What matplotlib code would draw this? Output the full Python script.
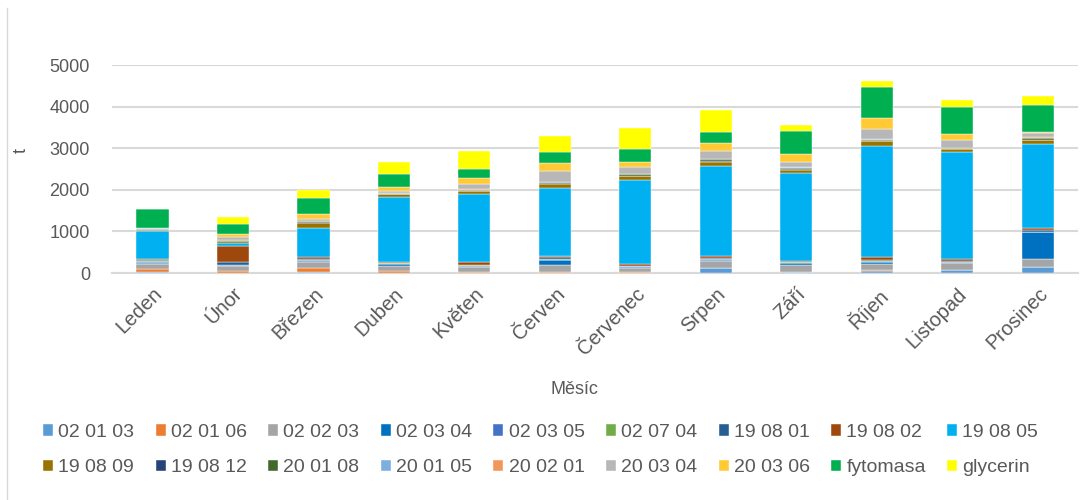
#!/usr/bin/env python3
"""Monthly stacked tonnage by waste code / input material."""

import numpy as np
import matplotlib.pyplot as plt
from matplotlib.lines import Line2D

months = ["Leden", "Únor", "Březen", "Duben", "Květen", "Červen",
          "Červenec", "Srpen", "Září", "Říjen", "Listopad", "Prosinec"]

series_names = ["02 01 03", "02 01 06", "02 02 03", "02 03 04", "02 03 05",
                "02 07 04", "19 08 01", "19 08 02", "19 08 05", "19 08 09",
                "19 08 12", "20 01 08", "20 01 05", "20 02 01", "20 03 04",
                "20 03 06", "fytomasa", "glycerin"]

s_020103 = [15, 5, 15, 10, 10, 5, 10, 115, 30, 60, 65, 150]
s_020106 = [80, 35, 115, 40, 10, 25, 5, 10, 5, 5, 5, 5]
s_020203 = [120, 120, 135, 130, 115, 165, 115, 160, 165, 155, 160, 175]
s_020304 = [25, 25, 30, 35, 30, 110, 20, 35, 40, 45, 25, 645]
s_020305 = [25, 10, 10, 10, 15, 15, 10, 20, 10, 10, 10, 10]
s_020704 = [25, 5, 5, 5, 5, 5, 5, 5, 5, 25, 5, 5]
s_190801 = [20, 70, 35, 10, 15, 50, 15, 20, 10, 15, 20, 40]
s_190802 = [30, 380, 30, 30, 55, 35, 30, 35, 30, 75, 55, 55]
s_190805 = [660, 80, 715, 1560, 1635, 1640, 2020, 2170, 2105, 2660, 2560, 2025]
s_190809 = [45, 40, 120, 60, 85, 100, 100, 95, 80, 115, 65, 80]
s_190812 = [5, 5, 5, 5, 5, 10, 10, 35, 10, 10, 5, 5]
s_200108 = [5, 15, 25, 15, 20, 25, 30, 30, 45, 30, 25, 55]
s_200105 = [5, 10, 5, 5, 5, 5, 5, 5, 5, 5, 5, 5]
s_200201 = [5, 5, 5, 5, 5, 5, 5, 5, 5, 20, 5, 5]
s_200304 = [20, 55, 45, 40, 140, 245, 180, 200, 135, 220, 190, 105]
s_200306 = [5, 70, 115, 105, 140, 195, 110, 185, 180, 270, 140, 25]
fytomasa = [440, 250, 400, 315, 210, 275, 300, 275, 560, 740, 660, 650]
glycerin = [0, 165, 180, 290, 425, 380, 510, 520, 130, 160, 160, 210]

series_values = [s_020103, s_020106, s_020203, s_020304, s_020305, s_020704,
                 s_190801, s_190802, s_190805, s_190809, s_190812, s_200108,
                 s_200105, s_200201, s_200304, s_200306, fytomasa, glycerin]

colors = ["#5B9BD5", "#ED7D31", "#A5A5A5", "#0070C0", "#4472C4", "#70AD47",
          "#255E91", "#9E480E", "#00B0F0", "#997300", "#264478", "#43682B",
          "#7CAFDD", "#F1975A", "#B7B7B7", "#FFCA33", "#00B050", "#FFFF00"]

TEXT = "#595959"
GRID = "#D9D9D9"

plt.rcParams["font.family"] = ["Liberation Sans", "DejaVu Sans"]

fig = plt.figure(figsize=(10.89, 5.0), dpi=100)
ax = fig.add_axes([0.103, 0.454, 0.887, 0.416])

x = np.arange(len(months))
bottom = np.zeros(len(months))
for name, vals, col in zip(series_names, series_values, colors):
    vals = np.array(vals, dtype=float)
    ax.bar(x, vals, width=0.4, bottom=bottom, color=col, label=name,
           edgecolor="white", linewidth=0.3, zorder=3)
    bottom += vals

ax.set_xlim(-0.5, len(months) - 0.5)
ax.set_ylim(0, 5000)
ax.set_yticks(range(0, 5001, 1000))
ax.yaxis.grid(True, color=GRID, linewidth=1.5, zorder=0)
for side in ("top", "right", "left"):
    ax.spines[side].set_visible(False)
ax.spines["bottom"].set_color(GRID)
ax.spines["bottom"].set_linewidth(1.5)
ax.tick_params(axis="both", length=0, colors=TEXT)
ax.tick_params(axis="y", labelsize=13, pad=16)

ax.set_xticks(x)
ax.set_xticklabels(months, rotation=45, ha="right", rotation_mode="anchor")
ax.tick_params(axis="x", labelsize=14.5, pad=8)

ax.set_ylabel("t", fontsize=13, color=TEXT)
ax.yaxis.set_label_coords(-0.085, 0.59)
ax.set_xlabel("Měsíc", fontsize=13, color=TEXT)
ax.xaxis.set_label_coords(0.479, -0.52)

# legend fills column by column, so interleave to get two rows in series order
handles, labels = ax.get_legend_handles_labels()
ncol = 9
order = [r * ncol + c for c in range(ncol) for r in range(2)]
fig.legend([handles[i] for i in order], [labels[i] for i in order],
           loc="upper left", bbox_to_anchor=(0.0395, 0.152),
           borderaxespad=0, borderpad=0,
           ncol=ncol, frameon=False, fontsize=14, labelcolor=TEXT,
           handlelength=0.52, handleheight=0.52, handletextpad=0.26,
           columnspacing=1.1, labelspacing=0.95)

# chart area border (left edge)
fig.add_artist(Line2D([0.0065, 0.0065], [0.0, 0.985], transform=fig.transFigure,
                      color=GRID, linewidth=1.0))

fig.savefig("out.png", dpi=100)
